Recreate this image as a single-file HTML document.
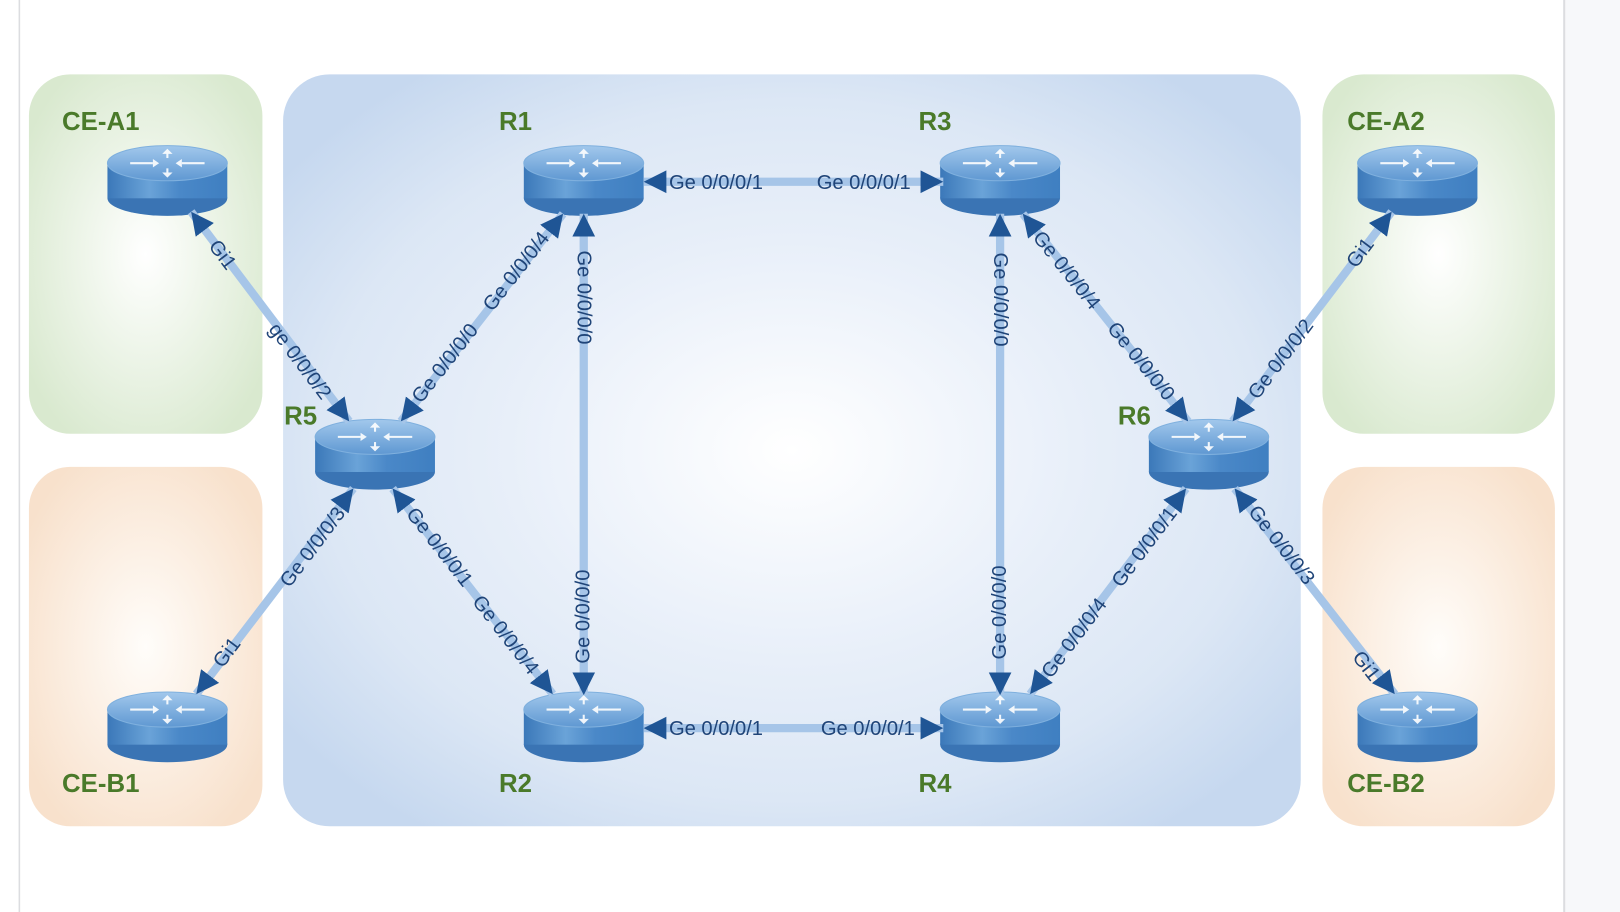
<!DOCTYPE html>
<html><head><meta charset="utf-8"><style>
html,body{margin:0;padding:0;background:#fff;}
svg{display:block;}
text{font-family:"Liberation Sans",Arial,sans-serif;}
.lbl{font-size:19.5px;fill:#1f4478;text-anchor:middle;dominant-baseline:central;}
.nm{font-size:25px;font-weight:bold;fill:#4a7a2a;}
.ln{stroke:#a6c5e8;stroke-width:8;fill:none;marker-start:url(#ah);marker-end:url(#ah);}
</style></head><body>
<svg width="1620" height="912" viewBox="0 0 1568 883" preserveAspectRatio="none" xmlns="http://www.w3.org/2000/svg">
<defs>
<radialGradient id="gG" cx="0.5" cy="0.5" r="0.6"><stop offset="0" stop-color="#ffffff"/><stop offset="1" stop-color="#d9e9cf"/></radialGradient>
<radialGradient id="gO" cx="0.5" cy="0.5" r="0.6"><stop offset="0" stop-color="#fffdfa"/><stop offset="1" stop-color="#f8e1cc"/></radialGradient>
<radialGradient id="gB" cx="0.5" cy="0.5" r="0.62"><stop offset="0" stop-color="#ffffff"/><stop offset="0.45" stop-color="#e8eff9"/><stop offset="0.75" stop-color="#dce7f5"/><stop offset="1" stop-color="#c6d8ef"/></radialGradient>
<linearGradient id="body" x1="0" x2="1" y1="0" y2="0"><stop offset="0" stop-color="#3b78b9"/><stop offset="0.35" stop-color="#6aa3d8"/><stop offset="0.6" stop-color="#4a88c8"/><stop offset="1" stop-color="#3f7fc1"/></linearGradient>
<linearGradient id="top" x1="0" x2="0" y1="0" y2="1"><stop offset="0" stop-color="#a2c8ec"/><stop offset="1" stop-color="#5f98d2"/></linearGradient>
<marker id="ah" markerUnits="userSpaceOnUse" markerWidth="24" markerHeight="24" refX="22" refY="11" orient="auto-start-reverse" viewBox="0 0 24 22"><path d="M0,0 L22,11 L0,22 Z" fill="#1f5595"/></marker>
<g id="rt">
<ellipse cx="0" cy="51" rx="58" ry="17" fill="#3a74b4"/>
<rect x="-58" y="17" width="116" height="34" fill="url(#body)"/>
<ellipse cx="0" cy="17" rx="58" ry="17" fill="url(#top)" stroke="#7fb0de" stroke-width="1"/>
<g stroke="#fff" stroke-width="2" fill="#fff" opacity="0.9">
<line x1="-36" y1="17" x2="-14" y2="17"/><line x1="14" y1="17" x2="36" y2="17"/>
<line x1="0" y1="6" x2="0" y2="12"/><line x1="0" y1="22" x2="0" y2="28"/>
<path d="M-8,17 l-6,-4 v8z" stroke="none"/><path d="M8,17 l6,-4 v8z" stroke="none"/>
<path d="M0,3 l-5,5 h10z" stroke="none"/><path d="M0,31 l-5,-5 h10z" stroke="none"/>
</g>
</g>
</defs>
<rect x="0" y="0" width="1568" height="883" fill="#fff"/>
<rect x="1515" y="0" width="53" height="883" fill="#f7f8fa"/>
<rect x="1513" y="0" width="2" height="883" fill="#dcdde0"/>
<rect x="18" y="0" width="1.5" height="883" fill="#dcdde0"/>

<rect x="28" y="72" width="226" height="348" rx="40" fill="url(#gG)"/>
<rect x="28" y="452" width="226" height="348" rx="40" fill="url(#gO)"/>
<rect x="1280" y="72" width="225" height="348" rx="40" fill="url(#gG)"/>
<rect x="1280" y="452" width="225" height="348" rx="40" fill="url(#gO)"/>
<rect x="274" y="72" width="985" height="728" rx="45" fill="url(#gB)"/>

<use href="#rt" x="162" y="141"/>
<use href="#rt" x="565" y="141"/>
<use href="#rt" x="968" y="141"/>
<use href="#rt" x="1372" y="141"/>
<use href="#rt" x="363" y="406"/>
<use href="#rt" x="1170" y="406"/>
<use href="#rt" x="162" y="670"/>
<use href="#rt" x="565" y="670"/>
<use href="#rt" x="968" y="670"/>
<use href="#rt" x="1372" y="670"/>

<line class="ln" x1="185" y1="205" x2="338" y2="408"/>
<line class="ln" x1="388" y1="408" x2="545" y2="207"/>
<line class="ln" x1="623" y1="176" x2="913" y2="176"/>
<line class="ln" x1="565" y1="207" x2="565" y2="673"/>
<line class="ln" x1="342" y1="473" x2="190" y2="672"/>
<line class="ln" x1="380" y1="473" x2="535" y2="672"/>
<line class="ln" x1="623" y1="705" x2="913" y2="705"/>
<line class="ln" x1="968" y1="207" x2="968" y2="673"/>
<line class="ln" x1="990" y1="207" x2="1150" y2="408"/>
<line class="ln" x1="1347" y1="205" x2="1193" y2="408"/>
<line class="ln" x1="1148" y1="473" x2="997" y2="672"/>
<line class="ln" x1="1195" y1="473" x2="1350" y2="672"/>

<text class="lbl" x="693" y="177">Ge 0/0/0/1</text>
<text class="lbl" x="836" y="177">Ge 0/0/0/1</text>
<text class="lbl" x="693" y="706">Ge 0/0/0/1</text>
<text class="lbl" x="840" y="706">Ge 0/0/0/1</text>
<text class="lbl" transform="translate(565,288) rotate(90)">Ge 0/0/0/0</text>
<text class="lbl" transform="translate(565,597) rotate(-90)">Ge 0/0/0/0</text>
<text class="lbl" transform="translate(968,290) rotate(90)">Ge 0/0/0/0</text>
<text class="lbl" transform="translate(968,593) rotate(-90)">Ge 0/0/0/0</text>
<text class="lbl" transform="translate(215,247) rotate(53)">Gi1</text>
<text class="lbl" transform="translate(290,350) rotate(53)">ge 0/0/0/2</text>
<text class="lbl" transform="translate(431,352) rotate(-52)">Ge 0/0/0/0</text>
<text class="lbl" transform="translate(500,263) rotate(-52)">Ge 0/0/0/4</text>
<text class="lbl" transform="translate(303,530) rotate(-53)">Ge 0/0/0/3</text>
<text class="lbl" transform="translate(220,632) rotate(-53)">Gi1</text>
<text class="lbl" transform="translate(425,530) rotate(52)">Ge 0/0/0/1</text>
<text class="lbl" transform="translate(489,615) rotate(52)">Ge 0/0/0/4</text>
<text class="lbl" transform="translate(1032,262) rotate(51)">Ge 0/0/0/4</text>
<text class="lbl" transform="translate(1104,350) rotate(51)">Ge 0/0/0/0</text>
<text class="lbl" transform="translate(1317,245) rotate(-53)">Gi1</text>
<text class="lbl" transform="translate(1240,348) rotate(-53)">Ge 0/0/0/2</text>
<text class="lbl" transform="translate(1108,530) rotate(-53)">Ge 0/0/0/1</text>
<text class="lbl" transform="translate(1040,618) rotate(-53)">Ge 0/0/0/4</text>
<text class="lbl" transform="translate(1240,528) rotate(52)">Ge 0/0/0/3</text>
<text class="lbl" transform="translate(1322,645) rotate(52)">Gi1</text>

<text class="nm" x="60" y="126">CE-A1</text>
<text class="nm" x="483" y="126">R1</text>
<text class="nm" x="889" y="126">R3</text>
<text class="nm" x="1304" y="126">CE-A2</text>
<text class="nm" x="275" y="411">R5</text>
<text class="nm" x="1082" y="411">R6</text>
<text class="nm" x="60" y="767">CE-B1</text>
<text class="nm" x="483" y="767">R2</text>
<text class="nm" x="889" y="767">R4</text>
<text class="nm" x="1304" y="767">CE-B2</text>
</svg>
</body></html>
